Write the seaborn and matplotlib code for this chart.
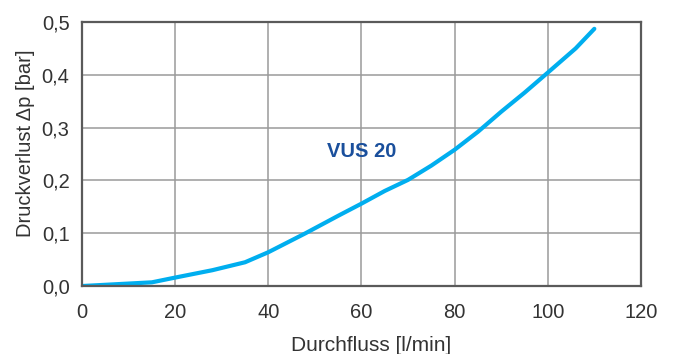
import matplotlib
matplotlib.use("Agg")
import matplotlib.pyplot as plt
import seaborn as sns
import pandas as pd

# flow rate [l/min] and pressure loss [bar]
flow = [0, 15, 20, 28, 35, 40, 48, 55, 60, 65, 70, 75, 80, 85, 90, 95, 100, 106, 110]
dp = [0.0, 0.007, 0.016, 0.03, 0.045, 0.064, 0.1, 0.133, 0.156, 0.18, 0.201, 0.228, 0.258, 0.292, 0.33, 0.366, 0.404, 0.45, 0.487]

x_ticks = [0, 20, 40, 60, 80, 100, 120]
y_ticks = [0.0, 0.1, 0.2, 0.3, 0.4, 0.5]
y_tick_labels = ["0,0", "0,1", "0,2", "0,3", "0,4", "0,5"]
series_label = "VUS 20"

df = pd.DataFrame({"flow": flow, "dp": dp})

sns.set_style("white")
plt.rcParams["font.family"] = ["Liberation Sans", "DejaVu Sans"]

fig = plt.figure(figsize=(6.75, 3.54), dpi=100)
ax = fig.add_axes([0.1215, 0.192, 0.828, 0.746])

sns.lineplot(data=df, x="flow", y="dp", ax=ax, color="#00aeef", linewidth=3,
             solid_capstyle="round")

ax.set_xlim(0, 120)
ax.set_ylim(0, 0.5)
ax.set_xticks(x_ticks)
ax.set_xticklabels([str(t) for t in x_ticks])
ax.set_yticks(y_ticks)
ax.set_yticklabels(y_tick_labels)

ax.grid(True, color="#9a9a9a", linewidth=1.1)
ax.set_axisbelow(True)
for s in ax.spines.values():
    s.set_color("#5a5a5a")
    s.set_linewidth(1.6)

ax.tick_params(axis="both", direction="out", length=5, width=1.3, color="#5a5a5a",
               labelsize=14.5, labelcolor="#333333")
ax.tick_params(axis="x", pad=7)
ax.tick_params(axis="y", pad=4)

ax.set_xlabel("Durchfluss [l/min]", fontsize=15, color="#333333", va="center")
ax.set_ylabel("Druckverlust Δp [bar]", fontsize=14.5, color="#333333", va="center")
ax.xaxis.set_label_coords(0.517, -0.225)
ax.yaxis.set_label_coords(-0.102, 0.54)

ax.text(60, 0.255, series_label, color="#1a4f9c", fontsize=14.5, fontweight="bold",
        ha="center", va="center")

fig.savefig("out.png", dpi=100)
